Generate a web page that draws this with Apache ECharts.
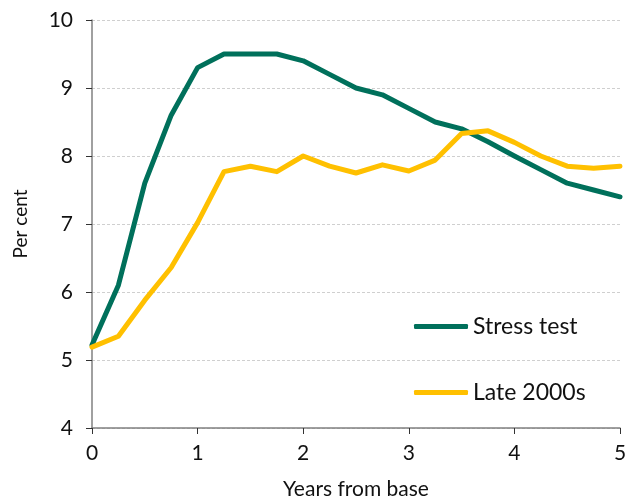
<!DOCTYPE html>
<html>
<head>
<meta charset="utf-8">
<script src="https://cdn.jsdelivr.net/npm/echarts@6/dist/echarts.min.js"></script>
<style>html,body{margin:0;padding:0;background:#fff;overflow:hidden;}#c{width:625px;height:497px;}</style>
</head>
<body>
<div id="c"></div>
<script>
const years = [0, 0.25, 0.5, 0.75, 1, 1.25, 1.5, 1.75, 2, 2.25, 2.5, 2.75, 3, 3.25, 3.5, 3.75, 4, 4.25, 4.5, 4.75, 5];
const stressTest = [5.22, 6.10, 7.60, 8.60, 9.30, 9.50, 9.50, 9.50, 9.40, 9.20, 9.00, 8.90, 8.70, 8.50, 8.40, 8.21, 8.00, 7.80, 7.60, 7.50, 7.40];
const late2000s = [5.19, 5.35, 5.88, 6.36, 7.02, 7.77, 7.85, 7.77, 8.00, 7.85, 7.75, 7.87, 7.78, 7.94, 8.33, 8.37, 8.20, 8.00, 7.85, 7.82, 7.85];
const seriesNames = ['Stress test', 'Late 2000s'];
const xAxisTitle = 'Years from base';
const yAxisTitle = 'Per cent';

const FONT = 'Lato';
const pair = (xs, ys) => xs.map((x, i) => [x, ys[i]]);

const chart = echarts.init(document.getElementById('c'), null, {renderer: 'canvas'});
chart.setOption({
  animation: false,
  backgroundColor: '#fff',
  textStyle: {fontFamily: FONT},
  grid: {left: 92, right: 5, top: 20, bottom: 69, containLabel: false, outerBoundsMode: 'none'},
  legend: {
    orient: 'vertical',
    left: 414,
    top: 315,
    padding: 0,
    itemWidth: 54,
    itemHeight: 5,
    itemGap: 43,
    icon: 'roundRect',
    textStyle: {fontFamily: FONT, fontSize: 23, color: '#111'},
    data: seriesNames
  },
  xAxis: {
    type: 'value', min: 0, max: 5, interval: 1,
    name: xAxisTitle, nameLocation: 'middle', nameGap: 51,
    nameTextStyle: {fontFamily: FONT, fontSize: 21, color: '#111'},
    axisLine: {show: true, lineStyle: {color: '#808080', width: 1.5}},
    axisTick: {show: true, length: 6, lineStyle: {color: '#333', width: 1}},
    axisLabel: {fontFamily: FONT, fontSize: 21, color: '#111', margin: 15},
    splitLine: {show: false}
  },
  yAxis: {
    type: 'value', min: 4, max: 10, interval: 1,
    name: yAxisTitle, nameLocation: 'middle', nameGap: 62, nameRotate: 90,
    nameTextStyle: {fontFamily: FONT, fontSize: 19, color: '#111'},
    axisLine: {show: true, lineStyle: {color: '#808080', width: 1.5}},
    axisTick: {show: true, length: 6, lineStyle: {color: '#333', width: 1}},
    axisLabel: {fontFamily: FONT, fontSize: 21, color: '#111', margin: 19},
    splitLine: {show: true, lineStyle: {color: '#cfcfcf', type: [3, 2], width: 1}}
  },
  series: [
    {
      name: seriesNames[0], type: 'line', data: pair(years, stressTest),
      showSymbol: false, symbol: 'none',
      lineStyle: {color: '#00705B', width: 5, cap: 'round', join: 'round'},
      itemStyle: {color: '#00705B'}
    },
    {
      name: seriesNames[1], type: 'line', data: pair(years, late2000s),
      showSymbol: false, symbol: 'none',
      lineStyle: {color: '#FFC000', width: 5, cap: 'round', join: 'round'},
      itemStyle: {color: '#FFC000'}
    }
  ]
});
</script>
</body>
</html>
